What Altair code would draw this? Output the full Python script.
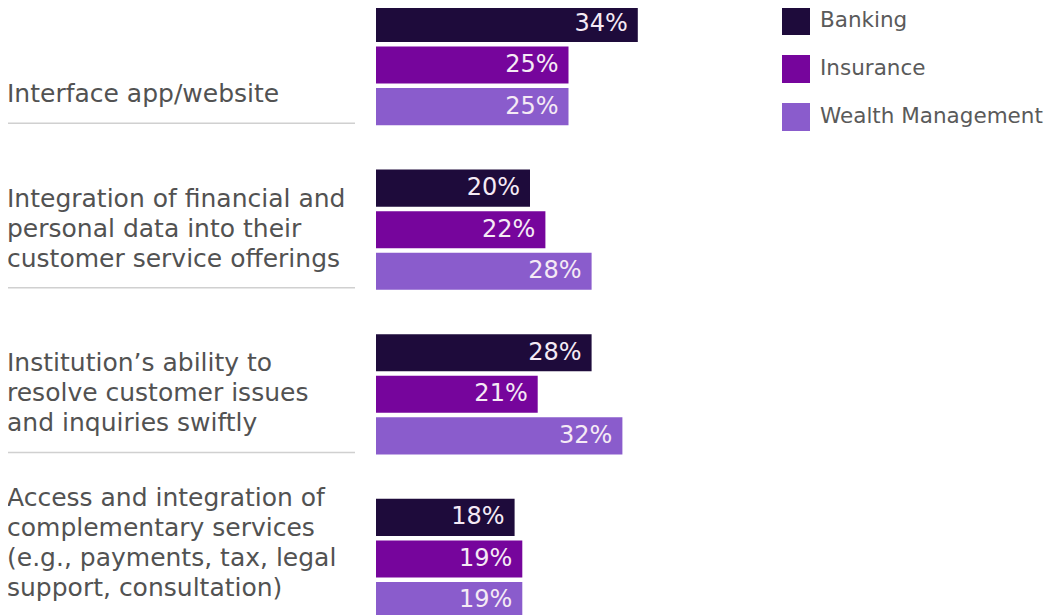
import altair as alt
import pandas as pd

categories = [
    "Interface app/website",
    "Integration of financial and|personal data into their|customer service offerings",
    "Institution’s ability to|resolve customer issues|and inquiries swiftly",
    "Access and integration of|complementary services|(e.g., payments, tax, legal|support, consultation)",
]
series = ["Banking", "Insurance", "Wealth Management"]
banking = [34, 20, 28, 18]
insurance = [25, 22, 21, 19]
wealth = [25, 28, 32, 19]
colors = ["#1e0b3b", "#76059c", "#8a5ccc"]

rows = []
for s, vals in zip(series, [banking, insurance, wealth]):
    for c, v in zip(categories, vals):
        rows.append({"category": c, "series": s, "value": v})
df = pd.DataFrame(rows)
sep_df = pd.DataFrame({"category": categories})

line_rows = []
for c in categories:
    parts = c.split("|")
    n = len(parts)
    for i, t in enumerate(parts):
        line_rows.append({"category": c, "k": n - 1 - i, "line": t})
lines_df = pd.DataFrame(line_rows)

FONT = "DejaVu Sans"

y_scale = alt.Scale(paddingInner=0.27, paddingOuter=0)
y_enc = alt.Y("category:N", sort=categories, scale=y_scale, axis=None)
y_off = alt.YOffset(
    "series:N", sort=series,
    scale=alt.Scale(type="band", domain=series, paddingInner=0.108, paddingOuter=0),
)
x_enc = alt.X("value:Q", scale=alt.Scale(domain=[0, 40]), axis=None)

bars = alt.Chart(df).mark_bar().encode(
    x=x_enc,
    y=y_enc,
    yOffset=y_off,
    color=alt.Color(
        "series:N",
        sort=series,
        scale=alt.Scale(domain=series, range=colors),
        legend=alt.Legend(
            title=None,
            orient="none",
            legendX=406,
            legendY=2,
            padding=0,
            symbolType="square",
            symbolSize=784,
            symbolStrokeWidth=0,
            symbolOpacity=1,
            labelFont=FONT,
            labelFontSize=21.5,
            labelColor="#5a5a5a",
            labelOffset=10,
            rowPadding=20,
            labelLimit=0,
        ),
    ),
)

labels = alt.Chart(df).transform_calculate(
    lbl="datum.value + '%'"
).mark_text(
    align="right", baseline="middle", dx=-10, font=FONT, fontSize=24, color="#f5eaf5"
).encode(
    x=x_enc,
    y=y_enc,
    yOffset=y_off,
    text="lbl:N",
)

cat_text = alt.Chart(lines_df).mark_text(
    align="left", baseline="middle", dy=-16, font=FONT, fontSize=25, color="#525252"
).encode(
    y=y_enc,
    yOffset=alt.YOffset(
        "k:O",
        scale=alt.Scale(type="band", domain=[3, 2, 1, 0], paddingInner=0, paddingOuter=0),
    ),
    x=alt.value(-369),
    text="line:N",
)

seps = alt.Chart(sep_df).mark_rule(color="#d0d0d0", strokeWidth=1.5, yOffset=-2).encode(
    y=alt.Y("category:N", sort=categories, bandPosition=1, axis=None),
    x=alt.value(-372),
    x2=alt.value(-21),
)

chart = alt.layer(seps, cat_text, bars, labels).resolve_scale(
    yOffset="independent"
).properties(
    width=308,
    height=614,
    autosize=alt.AutoSizeParams(type="none"),
    padding={"left": 368, "top": -3, "right": 362, "bottom": 10},
).configure_view(stroke=None)

chart.save("out.html", embed_options={"renderer": "svg", "actions": False})
